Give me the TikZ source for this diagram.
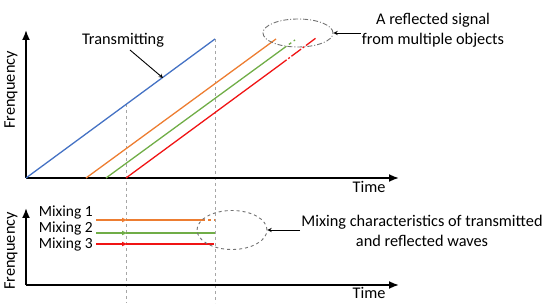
\documentclass[tikz,border=0pt]{standalone}
\usepackage{fontspec}
\setmainfont{Carlito}
\usetikzlibrary{arrows, arrows.meta, positioning, shapes.geometric}
\definecolor{txblue}{RGB}{68,114,196}
\definecolor{rxorange}{RGB}{237,125,49}
\definecolor{rxgreen}{RGB}{112,173,71}
\definecolor{rxred}{RGB}{240,20,20}
\tikzstyle{axis}     = [line width=1.8pt, ->, >={Latex[length=10pt,width=8pt]}]
\tikzstyle{guide}    = [gray!70, dashed, line width=0.6pt]
\tikzstyle{ramp}     = [line width=1.3pt]
\tikzstyle{mix}      = [line width=1.3pt, ->, >={Latex[length=6pt,width=5pt]}]
\tikzstyle{label}    = [inner sep=1pt, align=center, font=\fontsize{16.3}{20}\selectfont]
\tikzstyle{mixlabel} = [inner sep=0pt, font=\fontsize{15.5}{18}\selectfont, anchor=east]
\tikzstyle{pointer}  = [line width=0.9pt, ->, >=stealth]
\tikzstyle{blob}     = [draw=gray!90!black, ellipse, line width=0.9pt, inner sep=0pt]

\begin{document}
\begin{tikzpicture}[x=1pt, y=-1pt]
\useasboundingbox (0,0) rectangle (550,305);

% upper plot
\draw[guide] (126,104) -- (126,303);
\draw[guide] (215,39) -- (215,303);
\draw[axis] (26,178) -- (26,30);
\draw[axis] (26,178) -- (399,178);
\draw[ramp, txblue] (26,178) -- (215,39);
\draw[ramp, rxorange] (86,178) -- (276,39);
\draw[ramp, rxgreen] (106,178) -- (284,48);
\draw[ramp, rxgreen, dashed] (284,48) -- (295,40);
\draw[ramp, rxred] (126,178) -- (277,67);
\draw[ramp, rxred, dash pattern=on 12pt off 2pt on 2pt off 2pt] (277,67) -- (316,38);

\node[label] (frq1) at (11,90) [rotate=90] {Frenquency};
\node[label] (time1) at (369,187) {Time};

\node[label] (tx) at (123,40) {Transmitting};
\coordinate (txpt) at (163,78);
\draw[pointer] (130,50) -- (txpt);

\node[blob, dash pattern=on 5pt off 2pt on 1pt off 2pt, minimum width=70pt, minimum height=28pt] (refl) at (298,33) {};
\node[label] (refltxt) at (433,30) {A reflected signal\\from multiple objects};
\draw[pointer] (refltxt.west |- refl.east) -- (refl.east);

% lower plot
\draw[axis] (26,285) -- (26,208);
\draw[axis] (26,285) -- (399,285);

\node[mixlabel] (m1) at (93,212.5) {Mixing 1};
\node[mixlabel] (m2) at (93,228.5) {Mixing 2};
\node[mixlabel] (m3) at (93,244.5) {Mixing 3};

\draw[mix, rxorange] (96,220) -- (128,220);
\draw[ramp, rxorange] (126,220) -- (202,220);
\draw[ramp, rxorange, dashed] (202,220) -- (215,220);
\draw[mix, rxgreen] (96,233) -- (128,233);
\draw[ramp, rxgreen] (126,233) -- (215,233);
\draw[mix, rxred] (96,244) -- (128,244);
\draw[ramp, rxred] (126,244) -- (214,244);

\node[label] (frq2) at (11,251) [rotate=90] {Frenquency};
\node[label] (time2) at (369,293) {Time};

\node[blob, dashed, minimum width=70pt, minimum height=39pt] (mixe) at (232,230) {};
\node[label] (mixtxt) at (422,231) {Mixing characteristics of transmitted\\and reflected waves};
\draw[pointer] (mixtxt.west |- mixe.east) -- (mixe.east);

\end{tikzpicture}
\end{document}
